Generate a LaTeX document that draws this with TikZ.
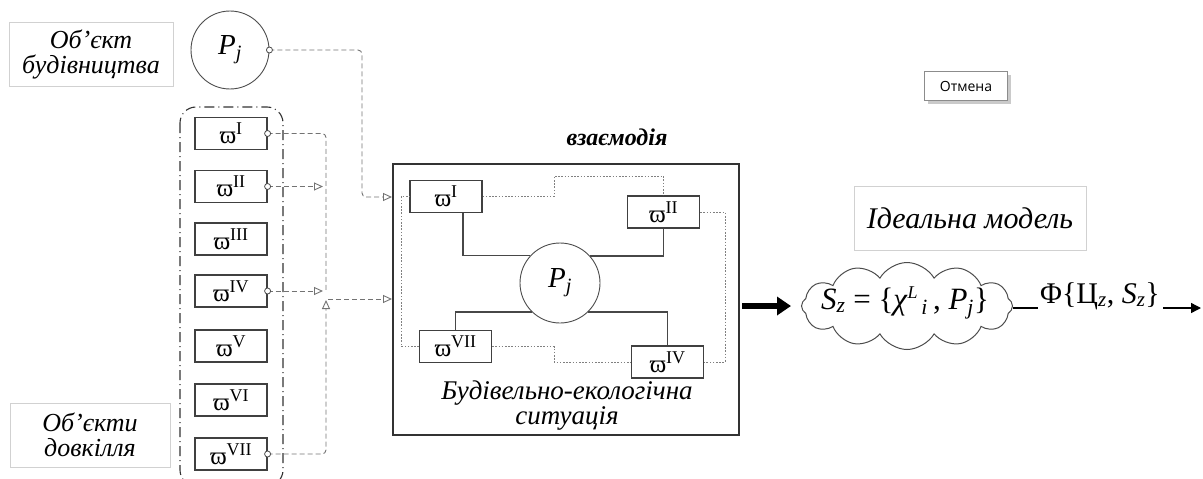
\documentclass[tikz,border=0pt]{standalone}
\usepackage{fontspec}
\setmainfont{Liberation Serif}
\newfontfamily\uisans{Open Sans}
\usetikzlibrary{arrows.meta,shapes.symbols,shadows,calc}
\newcommand\omlab[1]{ϖ\raisebox{9pt}{\fontsize{18}{18}\selectfont #1}}
\begin{document}
\begin{tikzpicture}[x=1pt,y=-1pt,
  lbl/.style={draw=black!18, line width=0.6pt, inner sep=0, align=center,
    font=\itshape\fontsize{26}{25}\selectfont},
  wbox/.style={draw=black!75, line width=1.2pt, minimum width=72pt, minimum height=32pt,
    inner sep=0, font=\fontsize{25}{25}\selectfont},
  port/.style={circle, draw=black!70, fill=white, line width=0.8pt, minimum size=6pt, inner sep=0},
  dconn/.style={draw=black!55, dash pattern=on 5pt off 3pt, line width=0.9pt, rounded corners=4pt},
  dotconn/.style={draw=black!50, dash pattern=on 1.6pt off 1.6pt, line width=1pt},
  solidconn/.style={draw=black!72, line width=1.6pt},
  tri/.style={-{Triangle[open,length=9pt,width=8pt,line width=0.9pt]}},
  pcirc/.style={circle, draw=black!70, line width=0.9pt, inner sep=0,
    font=\itshape\fontsize{29}{29}\selectfont}
]
\useasboundingbox (0,0) rectangle (1203,479);

% labels
\node[lbl, minimum width=164pt, minimum height=64pt] (lb1) at (91,54) {Об'єкт\\будівництва};
\node[lbl, minimum width=160pt, minimum height=64pt] (lb2) at (90,435) {Об'єкти\\довкілля};

% top Pj
\node[pcirc, minimum size=78pt] (pt) at (230,50) {P\textsubscript{j}};
% dash-dot group
\draw[black!80, line width=1.1pt, dash pattern=on 10pt off 4pt on 1pt off 4pt, rounded corners=16pt]
  (180,107) rectangle (283,486);

% left boxes
\foreach \i/\r/\yy in {1/I/133.5,2/II/186.5,3/III/239,4/IV/291,5/V/346,6/VI/400,7/VII/454}
  \node[wbox] (w\i) at (231,\yy) {\omlab{\r}};

% interior big box
\node[draw=black!80, line width=1.3pt, minimum width=346pt, minimum height=271pt, inner sep=0] (bb) at (566,299.5) {};
\node[font=\bfseries\itshape\fontsize{24}{24}\selectfont] (vz) at (617,137) {взаємодія};
\node[font=\itshape\fontsize{27}{25}\selectfont, align=center] (bes) at (567,406) {Будівельно-екологічна\\ситуація};

\node[pcirc, minimum size=80pt] (pc) at (560,283) {P\textsubscript{j}};
\node[wbox] (i1) at (446,196.5) {\omlab{I}};
\node[wbox] (i2) at (663.5,212) {\omlab{II}};
\node[wbox] (i7) at (455.5,346.5) {\omlab{VII}};
\node[wbox] (i4) at (667.5,362) {\omlab{IV}};

% solid connectors
\draw[solidconn] (pc.137.5) -| ($(i1.south)+(17,0)$);
\draw[solidconn] (pc.42.5) -| (i2.south);
\draw[solidconn] (pc.226.5) -| (i7.north);
\draw[solidconn] (pc.-46.5) -| (i4.north);

% dotted loop
\draw[dotconn] (i1.east) -| (554,176) -| (i2.north);
\draw[dotconn] (i2.east) -| (725,362) -- (i4.east);
\draw[dotconn] (i7.east) -| (554,362) -- (i4.west);
\draw[dotconn] (i7.west) -| (401,196.5) -- (i1.west);

% dashed connectors
\coordinate (in1) at (392,197);
\coordinate (in2) at (392,299);
\coordinate (vtop) at (326,133.5);
\coordinate (vmid) at (326,292);
\coordinate (vbot) at (326,454);
\coordinate (vup) at (326,300);
\coordinate (hout) at (328,299);
\draw[dconn,tri] (pt.east) -- (362,50) -- (362,197) -- (in1);
\draw[dconn] (w1.east) -- (vtop) -- (vmid);
\draw[dconn,tri] (w2.east) -- (323,186.5);
\draw[dconn,tri] (w4.east) -- (323,291);
\draw[dconn,tri] (w7.east) -- (vbot) -- (vup);
\draw[dconn,tri] (hout) -- (in2);

% ports
\foreach \n in {w1,w2,w4,w7} \node[port] at (\n.east) {};
\node[port] at (pt.east) {};

% right part
\coordinate (ta) at (742,306);
\node[cloud, cloud puffs=12, cloud puff arc=120, aspect=2.4, draw=black!70, line width=1pt,
  minimum width=211pt, minimum height=87pt, inner sep=0] (cl) at (907,306) {};
\node[font=\fontsize{31}{31}\selectfont, inner sep=0] (clt) at (905,303)
  {\textit{S}\textsubscript{\textit{z}} = \{\textit{χ}\raisebox{11pt}{\fontsize{18}{18}\selectfont\textit{L}}\textsubscript{\,\textit{i}}\,, \textit{P}\textsubscript{\textit{j}}\}};
\draw[line width=6pt, -{Triangle[length=14pt,width=18pt]}] (ta) -- (791,306);

\node[font=\fontsize{30}{30}\selectfont] (phi) at (1100,296)
  {Φ\{Ц\textsubscript{\textit{z}}, \textit{S}\textsubscript{\textit{z}}\}};
\coordinate (le) at (1038,308);
\draw[black, line width=1.4pt] (cl.east |- le) -- (le);
\coordinate (ae) at (1201,308);
\draw[black, line width=1.4pt, -{Triangle[length=10pt,width=10pt]}] (1163,308) -- (ae);

\node[lbl, minimum width=232pt, minimum height=64pt, font=\itshape\fontsize{30}{30}\selectfont] (im) at (970,218) {Ідеальна модель};

\node[draw=black!45, line width=0.8pt, fill=white, minimum width=83pt, minimum height=29pt, inner sep=0,
  font=\uisans\fontsize{14}{14}\selectfont,
  drop shadow={shadow xshift=3pt, shadow yshift=-3pt, fill=black!35, opacity=0.6}] (ot) at (966,86) {Отмена};
\end{tikzpicture}
\end{document}
